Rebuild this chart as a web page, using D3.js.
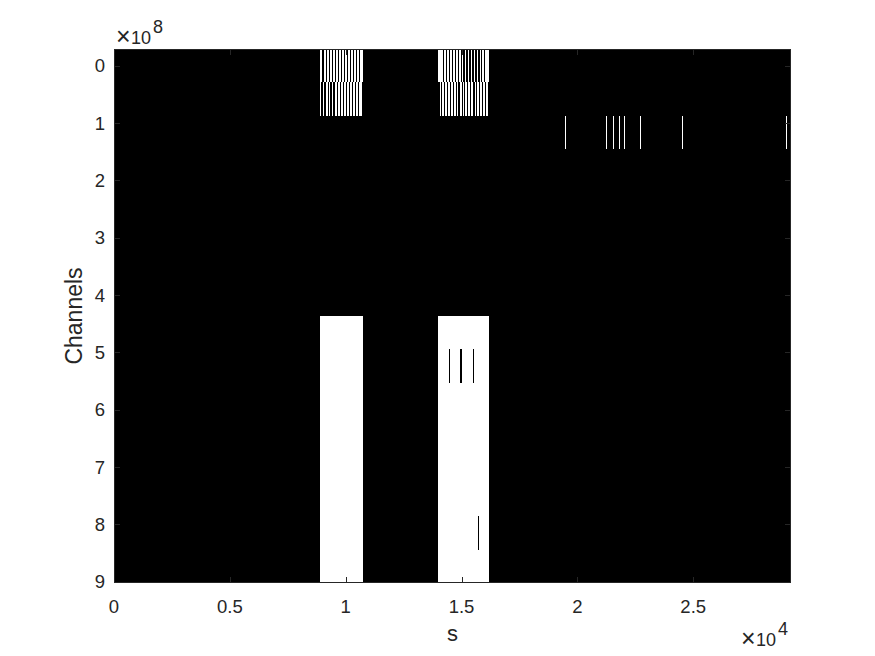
<!DOCTYPE html>
<html>
<head>
<meta charset="utf-8">
<script src="https://cdn.jsdelivr.net/npm/d3@7"></script>
<style>
  html, body { margin: 0; padding: 0; background: #fff; }
  svg { display: block; }
  text { font-family: "Liberation Sans", Arial, Helvetica, sans-serif; fill: #262626; }
</style>
</head>
<body>
<script>
// ---- data ----
const xMax = 29220;                       // seconds (axis limit)
const channelStep = 0.582e8;              // spacing between channel rows
const channelIndex = [0,1,2,3,4,5,6,7,8,9,10,11,12,13,14,15];
const xTicks = [0, 5000, 10000, 15000, 20000, 25000];
const xTickLabels = ["0", "0.5", "1", "1.5", "2", "2.5"];
const yTicks = [0,1,2,3,4,5,6,7,8,9].map(d => d * 1e8);
const yTickLabels = ["0","1","2","3","4","5","6","7","8","9"];

// white (active) intervals for channel rows 0 and 1: [tStart, tEnd]
const row0Stripes = [
  [8880,8990],[9050,9130],[9190,9260],[9320,9400],[9460,9530],[9590,9660],[9720,9800],
  [9850,9920],[9980,10050],[10100,10180],[10230,10300],[10360,10430],[10480,10560],[10610,10740],
  [13977,14200],[14250,14320],[14380,14450],[14500,14580],[14640,14700],[14760,14830],[14890,14960],
  [15010,15080],[15140,15210],[15270,15340],[15390,15460],[15520,15590],[15650,15720],[15780,15850],
  [15900,15970],[16030,16180]
];
const row1Stripes = [
  [8880,8950],[9010,9080],[9130,9230],[9280,9340],[9400,9470],[9520,9620],[9680,9740],
  [9800,9870],[9930,10020],[10070,10140],[10200,10260],[10320,10400],[10450,10520],[10580,10700],
  [14070,14120],[14170,14250],[14300,14360],[14420,14500],[14550,14610],[14670,14750],[14800,14860],
  [14920,15000],[15050,15110],[15170,15250],[15300,15370],[15430,15500],[15560,15620],[15680,15760],
  [15810,15870],[15930,16010],[16060,16150]
];
const row2Events = [19482, 21218, 21546, 21805, 22030, 22712, 24499, 28990];
const eventWidth = 45;
// wide activity blocks covering rows 8..15
const blockRows = [8, 15];
const blocks = [[8880, 10740], [13977, 16180]];
// gaps (inactive) inside the blocks: [rowIndex, t]
const blockGaps = [[9, 14440], [9, 14955], [9, 15475], [14, 15717]];

// ---- layout ----
const W = 875, H = 656;
const mL = 114, mR = 791, mT = 49, mB = 583;

const svg = d3.select("body").append("svg").attr("width", W).attr("height", H);

const x = d3.scaleLinear().domain([0, xMax]).range([mL, mR]);
const y = d3.scaleLinear()
  .domain([-0.5 * channelStep, 15.5 * channelStep])
  .range([mT, mB]);

const rowTop = i => y((i - 0.5) * channelStep);
const rowBot = i => y((i + 0.5) * channelStep);

const img = svg.append("g").attr("shape-rendering", "crispEdges");
img.append("rect").attr("x", mL).attr("y", mT)
  .attr("width", mR - mL).attr("height", mB - mT).attr("fill", "#000");

function drawRow(row, intervals, color) {
  img.append("g").selectAll("rect").data(intervals).join("rect")
    .attr("x", d => x(d[0]))
    .attr("width", d => Math.max(1, x(d[1]) - x(d[0])))
    .attr("y", rowTop(row))
    .attr("height", rowBot(row) - rowTop(row))
    .attr("fill", color);
}
drawRow(0, row0Stripes, "#fff");
drawRow(1, row1Stripes, "#fff");
drawRow(2, row2Events.map(t => [t, t + eventWidth]), "#fff");

img.append("g").selectAll("rect").data(blocks).join("rect")
  .attr("x", d => x(d[0]))
  .attr("width", d => x(d[1]) - x(d[0]))
  .attr("y", rowTop(blockRows[0]))
  .attr("height", rowBot(blockRows[1]) - rowTop(blockRows[0]))
  .attr("fill", "#fff");

img.append("g").selectAll("rect").data(blockGaps).join("rect")
  .attr("x", d => x(d[1]))
  .attr("width", Math.max(1, x(eventWidth) - x(0)))
  .attr("y", d => rowTop(d[0]))
  .attr("height", d => rowBot(d[0]) - rowTop(d[0]))
  .attr("fill", "#000");

// ---- axes ----
const axColor = "#262626";
const fs = 18.5;
const tl = 6;

const ax = svg.append("g").attr("shape-rendering", "crispEdges");
ax.append("rect").attr("x", mL + 0.5).attr("y", mT + 0.5)
  .attr("width", mR - mL - 1).attr("height", mB - mT - 1)
  .attr("fill", "none").attr("stroke", axColor).attr("stroke-width", 1);

// x ticks (inward, bottom and top)
xTicks.forEach((t, i) => {
  const px = Math.round(x(t)) + 0.5;
  ax.append("line").attr("x1", px).attr("x2", px).attr("y1", mB).attr("y2", mB - tl).attr("stroke", axColor);
  ax.append("line").attr("x1", px).attr("x2", px).attr("y1", mT).attr("y2", mT + tl).attr("stroke", axColor);
  svg.append("text").attr("x", x(t)).attr("y", 613).attr("text-anchor", "middle")
    .attr("font-size", fs).text(xTickLabels[i]);
});
// y ticks (inward, left and right)
yTicks.forEach((t, i) => {
  const py = Math.round(y(t)) + 0.5;
  ax.append("line").attr("x1", mL).attr("x2", mL + tl).attr("y1", py).attr("y2", py).attr("stroke", axColor);
  ax.append("line").attr("x1", mR).attr("x2", mR - tl).attr("y1", py).attr("y2", py).attr("stroke", axColor);
  svg.append("text").attr("x", 105).attr("y", y(t)).attr("dy", "0.36em").attr("text-anchor", "end")
    .attr("font-size", fs).text(yTickLabels[i]);
});

// exponent labels
function expLabel(xp, yb, exp) {
  const g = svg.append("g");
  g.append("text").attr("x", xp).attr("y", yb + 1).attr("font-size", 25).attr("font-weight", 300).text("\u00d7");
  g.append("text").attr("x", xp + 15).attr("y", yb).attr("font-size", 18).text("10");
  g.append("text").attr("x", xp + 37).attr("y", yb - 11).attr("font-size", 18).text(exp);
}
expLabel(116, 44, "8");
expLabel(741, 646, "4");

// axis labels
svg.append("text").attr("x", (mL + mR) / 2).attr("y", 641).attr("text-anchor", "middle")
  .attr("font-size", 22).text("s");
svg.append("text").attr("transform", `translate(82,${(mT + mB) / 2}) rotate(-90)`)
  .attr("text-anchor", "middle").attr("font-size", 23).text("Channels");
</script>
</body>
</html>
